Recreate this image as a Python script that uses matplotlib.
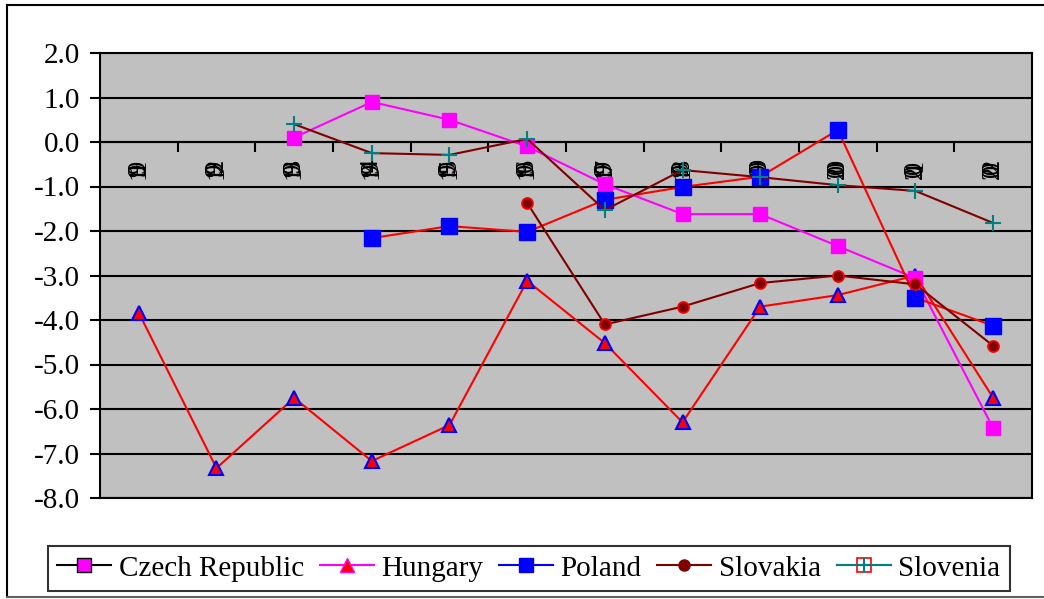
import numpy as np
import matplotlib
matplotlib.use("Agg")
import matplotlib.pyplot as plt
from matplotlib.lines import Line2D
from matplotlib.legend_handler import HandlerTuple
from matplotlib.transforms import offset_copy

plt.rcParams['font.family'] = ['Liberation Serif', 'DejaVu Serif']
plt.rcParams['axes.unicode_minus'] = False

nan = np.nan
years = ["1991", "1992", "1993", "1994", "1995", "1996",
         "1997", "1998", "1999", "2000", "2001", "2002"]
czech = [nan, nan, 0.1, 0.9, 0.5, -0.1, -0.95, -1.62, -1.62, -2.34, -3.06, -6.43]
hungary = [-3.84, -7.33, -5.75, -7.17, -6.36, -3.12, -4.52, -6.3, -3.7, -3.44, -3.0, -5.75]
poland = [nan, nan, nan, -2.16, -1.89, -2.02, -1.3, -1.01, -0.78, 0.27, -3.5, -4.13]
slovakia = [nan, nan, nan, nan, nan, -1.37, -4.1, -3.7, -3.17, -3.0, -3.2, -4.58]
slovenia = [nan, nan, 0.4, -0.25, -0.29, 0.07, -1.53, -0.63, -0.79, -0.97, -1.1, -1.82]
series_names = ["Czech Republic", "Hungary", "Poland", "Slovakia", "Slovenia"]
y_ticks = [2.0, 1.0, 0.0, -1.0, -2.0, -3.0, -4.0, -5.0, -6.0, -7.0, -8.0]

W, H = 1044, 599
fig = plt.figure(figsize=(W / 100, H / 100), dpi=100)
ax = fig.add_axes([100 / W, 1 - 498 / H, 932 / W, 445 / H])
ax.set_facecolor('#C0C0C0')

x = np.arange(len(years))
DKRED = '#800000'
TEAL = '#008080'

ax.plot(x, hungary, color='#FF0000', lw=1.5, marker='^', ms=10,
        mfc='#FF0000', mec='#0000FF', mew=1.5, zorder=4)
ax.plot(x, czech, color='#FF00FF', lw=1.5, marker='s', ms=10.5,
        mfc='#FF00FF', mec='#FF00FF', zorder=4)
ax.plot(x, poland, color='#FF0000', lw=1.5, marker='s', ms=11,
        mfc='#0000FF', mec='#0000FF', zorder=5)
ax.plot(x, slovakia, color=DKRED, lw=1.5, marker='o', ms=8,
        mfc=DKRED, mec='#FF0000', mew=1.2, zorder=5)
ax.plot(x, slovenia, color=DKRED, lw=1.5, marker='+', ms=12,
        mec=TEAL, mew=1.5, zorder=6)

ax.set_xlim(-0.5, len(years) - 0.5)
ax.set_ylim(-8, 2)
ax.set_yticks(y_ticks)
ax.set_yticklabels([f"{v:.1f}" for v in y_ticks], fontsize=21)
ax.yaxis.grid(True, color='black', lw=1.5)
ax.set_axisbelow(True)
ax.tick_params(axis='y', direction='out', length=7.5, width=1.5, pad=7)
ax.set_xticks([])
for s in ax.spines.values():
    s.set_linewidth(1.5)
    s.set_color('black')

# category axis crossing at zero with boundary tick marks
ax.axhline(0, color='black', lw=1.5, zorder=2)
ax.vlines(np.arange(-0.5, len(years)), -0.22, 0, color='black', lw=1.5, zorder=2)

# category labels, glyphs packed on top of one another
for xi, yr in zip(x, years):
    for k, ch in enumerate(yr):
        tr = offset_copy(ax.transData, fig=fig, x=0, y=(k - 1.5) * 2.5, units='dots')
        ax.text(xi, -0.6, ch, transform=tr, rotation=90, fontsize=19,
                ha='center', va='center', color='black', zorder=3)

# legend
h_cz = Line2D([], [], color='black', lw=1.5, marker='s', ms=10, mfc='#FF00FF', mec='black')
h_hu = Line2D([], [], color='#FF00FF', lw=1.5, marker='^', ms=10, mfc='#FF0000', mec='#FF00FF')
h_pl = Line2D([], [], color='#0000FF', lw=1.5, marker='s', ms=10, mfc='#0000FF', mec='#0000FF')
h_sk = Line2D([], [], color=DKRED, lw=1.5, marker='o', ms=8, mfc=DKRED, mec=DKRED)
h_si_a = Line2D([], [], color=TEAL, lw=1.5, marker='s', ms=10, mfc='none', mec='#FF0000', mew=1.2)
h_si_b = Line2D([], [], color=TEAL, lw=1.5, marker='+', ms=11, mec=TEAL, mew=1.5)
leg = fig.legend([h_cz, h_hu, h_pl, h_sk, (h_si_a, h_si_b)], series_names,
                 handler_map={tuple: HandlerTuple(ndivide=1)},
                 loc='lower left', bbox_to_anchor=(48 / W, 1 - 591 / H),
                 ncol=5, fontsize=21, frameon=True, fancybox=False,
                 handlelength=1.85, handletextpad=0.25, columnspacing=0.55,
                 borderpad=0.32, borderaxespad=0)
leg.get_frame().set_edgecolor('black')
leg.get_frame().set_linewidth(1.5)

# outer chart border
fig.add_artist(Line2D([7 / W, 7 / W], [1 - 5 / H, 1 - 597 / H], color='black', lw=1.5,
                      transform=fig.transFigure))
fig.add_artist(Line2D([7 / W, 1], [1 - 5 / H, 1 - 5 / H], color='black', lw=1.5,
                      transform=fig.transFigure))
fig.add_artist(Line2D([7 / W, 1], [1 - 597 / H, 1 - 597 / H], color='#606060', lw=1.5,
                      transform=fig.transFigure))

fig.savefig('out.png', dpi=100)
